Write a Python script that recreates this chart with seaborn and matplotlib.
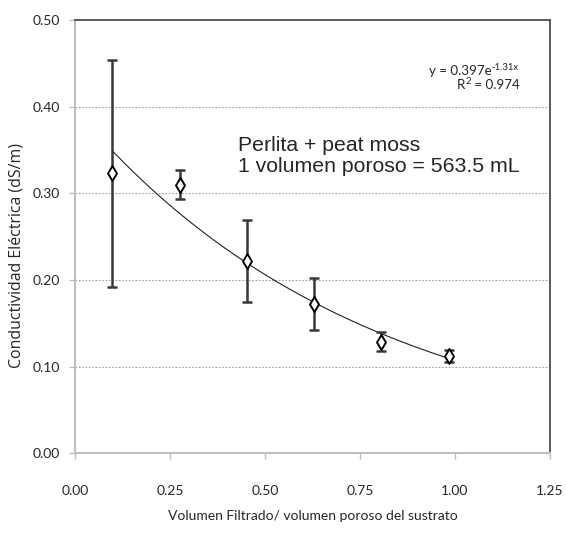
import numpy as np
import pandas as pd
import matplotlib
matplotlib.use("Agg")
import matplotlib.pyplot as plt
import seaborn as sns

# Volumen filtrado / volumen poroso y conductividad eléctrica medida
vol_ratio = [0.098, 0.275, 0.452, 0.629, 0.806, 0.983]
ce_mean = [0.323, 0.310, 0.222, 0.172, 0.129, 0.112]
ce_err = [0.131, 0.017, 0.047, 0.030, 0.011, 0.007]

# Ajuste exponencial y = a * exp(b x)
fit_a = 0.397
fit_b = -1.31
fit_r2 = 0.974

x_ticks = [0.00, 0.25, 0.50, 0.75, 1.00, 1.25]
y_ticks = [0.00, 0.10, 0.20, 0.30, 0.40, 0.50]

sns.set_style("white")
tick_font = ["Lato", "DejaVu Sans"]
W, H = 566, 541

fig = plt.figure(figsize=(W / 100, H / 100), dpi=100)
ax = fig.add_axes([75 / W, 1 - 453.3 / H, 475 / W, 433.3 / H])

df = pd.DataFrame({"x": vol_ratio, "y": ce_mean, "err": ce_err})

# Curva de ajuste
xs = np.linspace(min(vol_ratio), max(vol_ratio), 200)
fit_df = pd.DataFrame({"x": xs, "y": fit_a * np.exp(fit_b * xs)})
sns.lineplot(data=fit_df, x="x", y="y", ax=ax, color="#222222", lw=0.8, zorder=2)

# Barras de error
ax.errorbar(df["x"], df["y"], yerr=df["err"], fmt="none", ecolor="#383838",
            elinewidth=1.8, capsize=3.5, capthick=1.8, zorder=3)

# Puntos medidos
sns.scatterplot(data=df, x="x", y="y", ax=ax, marker="d", s=58,
                facecolor="white", edgecolor="black", linewidth=1.4, zorder=4)

ax.set_xlim(0, 1.25)
ax.set_ylim(0, 0.5)
ax.set_xticks(x_ticks)
ax.set_yticks(y_ticks)
ax.set_xticklabels([f"{v:.2f}" for v in x_ticks], family=tick_font, fontsize=10)
ax.set_yticklabels([f"{v:.2f}" for v in y_ticks], family=tick_font, fontsize=10)
ax.tick_params(axis="x", direction="out", length=4, width=1, color="#bfbfbf",
               pad=19, bottom=True)
ax.tick_params(axis="y", direction="out", length=4, width=1, color="#bfbfbf",
               pad=7, left=True)

for y in y_ticks[1:-1]:
    ax.axhline(y, color="#a0a0a0", lw=0.8, ls=(0, (1.5, 1.5)), zorder=1)

for side in ["left", "bottom"]:
    ax.spines[side].set_color("#bfbfbf")
    ax.spines[side].set_linewidth(1.5)
for side in ["top", "right"]:
    ax.spines[side].set_color("#404040")
    ax.spines[side].set_linewidth(1.2)

ax.set_xlabel("Volumen Filtrado/ volumen poroso del sustrato",
              family=tick_font, fontsize=10, labelpad=9)
ax.set_ylabel("")
fig.text(17 / W, 1 - 255 / H, "Conductividad Eléctrica (dS/m)",
         rotation=90, ha="center", va="center",
         family=["Open Sans", "DejaVu Sans"], fontsize=11.4)

ax.text(238 / W, 1 - 156 / H, "Perlita + peat moss\n1 volumen poroso = 563.5 mL",
        transform=fig.transFigure, ha="left", va="center",
        family=["Liberation Sans", "DejaVu Sans"], fontsize=15.3, linespacing=1.15)


def text_with_superscript(x_px, y_px, base, sup, after="", size=9.6):
    """Texto de la ecuación con exponente pequeño, empezando en x_px (píxeles)."""
    t = fig.text(x_px / W, 1 - y_px / H, base, ha="left", va="baseline",
                 family=tick_font, fontsize=size)
    fig.canvas.draw()
    x1 = t.get_window_extent().x1
    s = fig.text(x1 / W, 1 - (y_px - 5) / H, sup, ha="left", va="baseline",
                 family=tick_font, fontsize=size * 0.72)
    if after:
        fig.canvas.draw()
        x2 = s.get_window_extent().x1
        fig.text(x2 / W, 1 - y_px / H, after, ha="left", va="baseline",
                 family=tick_font, fontsize=size)


text_with_superscript(429, 75, f"y = {fit_a:.3f}e", f"{fit_b:.2f}x")
text_with_superscript(457, 89, "R", "2", f" = {fit_r2:.3f}")

fig.savefig("out.png", dpi=100)
